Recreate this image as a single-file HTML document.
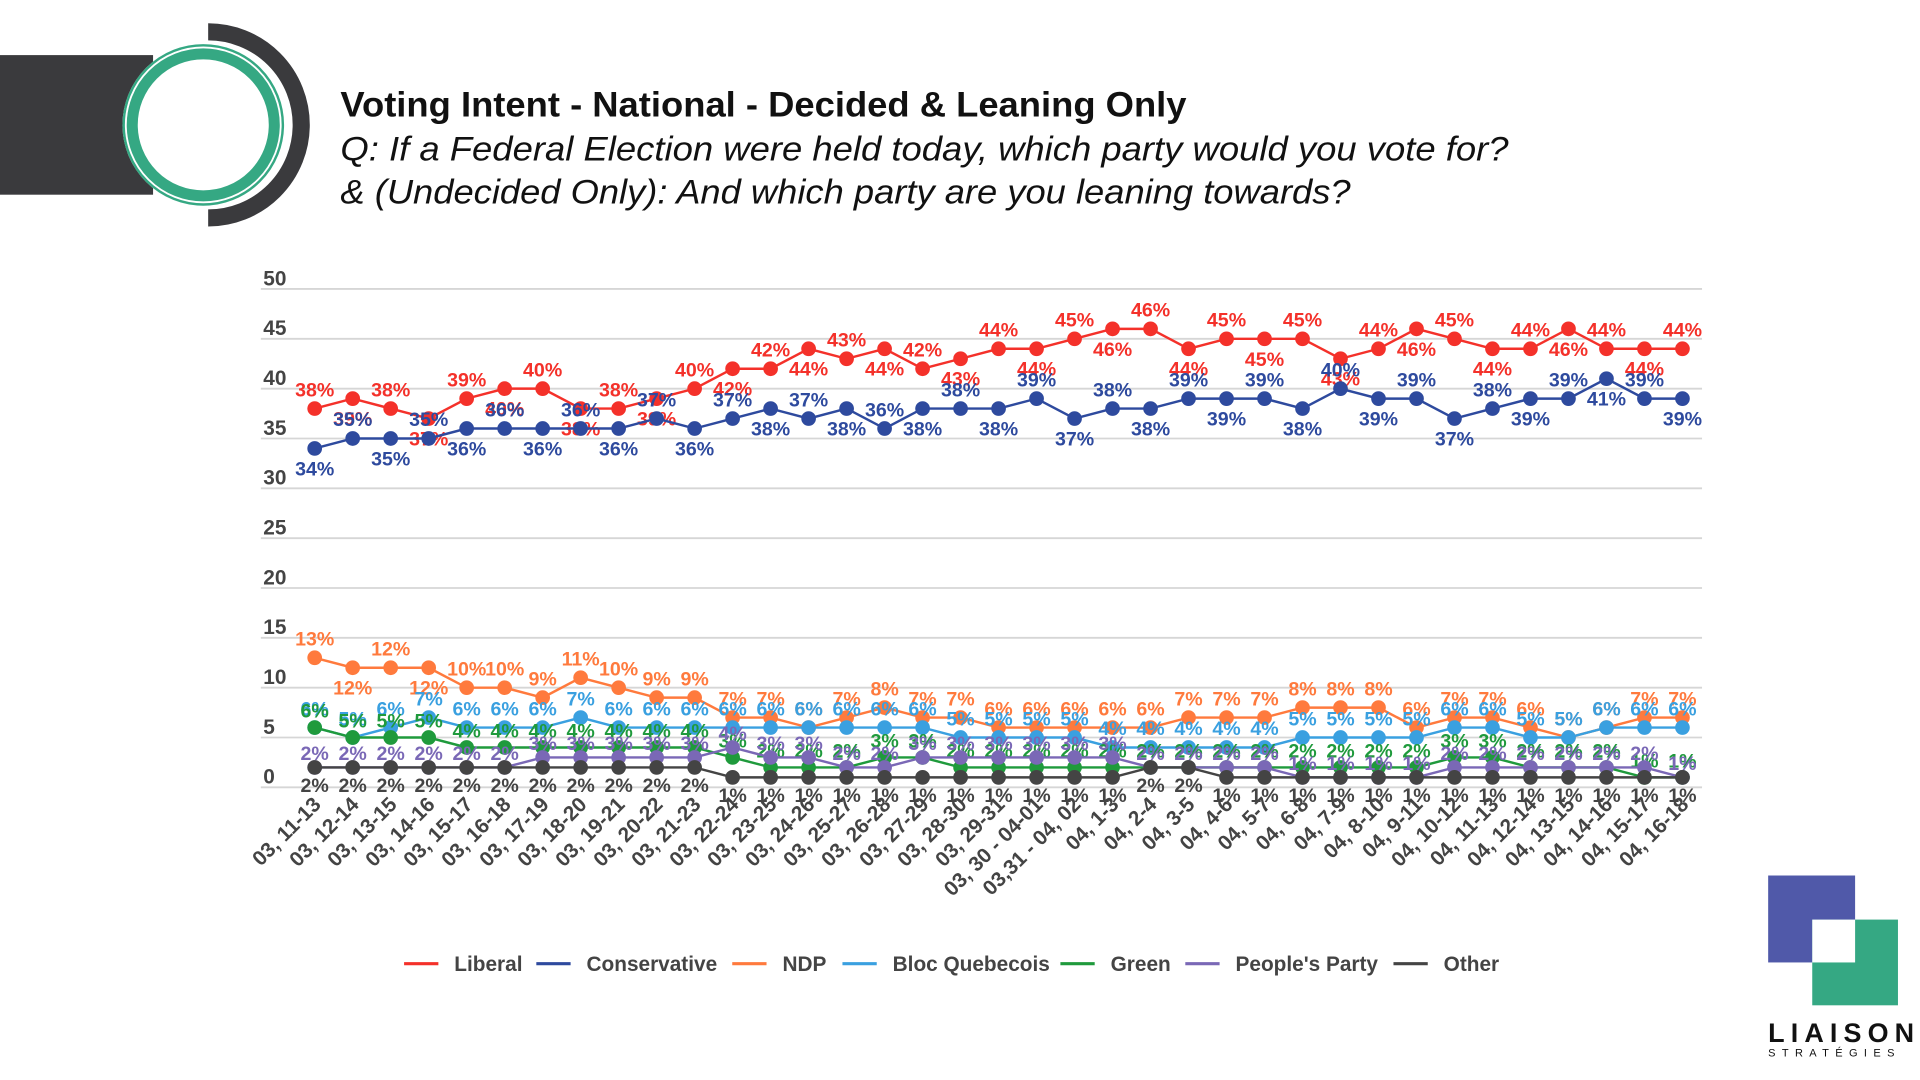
<!DOCTYPE html>
<html><head><meta charset="utf-8"><style>
html,body{margin:0;padding:0;background:#fff;width:1920px;height:1080px;overflow:hidden}
svg{display:block}
text{font-family:"Liberation Sans Narrow","Liberation Sans",sans-serif}
</style></head><body>
<svg id="chart" width="1920" height="1080" viewBox="0 0 1568 882" xmlns="http://www.w3.org/2000/svg">
<g>
<rect x="0" y="45" width="125" height="114" fill="#3a3a3d"/>
<path d="M170,26 A76,76 0 0 1 170,178" fill="none" stroke="#3a3a3d" stroke-width="14"/>
<circle cx="166" cy="102" r="66" fill="#fff"/>
<circle cx="166" cy="102" r="65" fill="none" stroke="#35a883" stroke-width="2"/>
<circle cx="166" cy="102" r="58" fill="none" stroke="#35a883" stroke-width="9"/>
</g>
<text x="278" y="95" font-size="29" font-weight="bold" fill="#111" textLength="691" lengthAdjust="spacingAndGlyphs">Voting Intent - National - Decided &amp; Leaning Only</text>
<text x="278" y="131" font-size="28" font-style="italic" fill="#111" textLength="954" lengthAdjust="spacingAndGlyphs">Q: If a Federal Election were held today, which party would you vote for?</text>
<text x="278" y="166" font-size="28" font-style="italic" fill="#111" textLength="825" lengthAdjust="spacingAndGlyphs">&amp; (Undecided Only): And which party are you leaning towards?</text>
<g id="grid"></g>
<g id="series"></g>
<g id="xlabels"></g>
<g id="legend"></g>
<g>
<rect x="1444" y="715" width="71" height="71" fill="#5059a9"/>
<rect x="1480" y="751" width="70" height="70" fill="#35a883"/>
<rect x="1480" y="751" width="35" height="35" fill="#fff"/>
<text x="1444" y="851" font-size="22" font-weight="bold" fill="#111" letter-spacing="5">LIAISON</text>
<text x="1444" y="863" font-size="9" fill="#111" letter-spacing="5.2">STRATÉGIES</text>
</g>
</svg>
<script>
const categories=["03, 11-13","03, 12-14","03, 13-15","03, 14-16","03, 15-17","03, 16-18","03, 17-19","03, 18-20","03, 19-21","03, 20-22","03, 21-23","03, 22-24","03, 23-25","03, 24-26","03, 25-27","03, 26-28","03, 27-29","03, 28-30","03, 29-31","03, 30 - 04-01","03,31 - 04, 02","04, 1-3","04, 2-4","04, 3-5","04, 4-6","04, 5-7","04, 6-8","04, 7-9","04, 8-10","04, 9-11","04, 10-12","04, 11-13","04, 12-14","04, 13-15","04, 14-16","04, 15-17","04, 16-18"];
const liberal=[38,39,38,37,39,40,40,38,38,39,40,42,42,44,43,44,42,43,44,44,45,46,46,44,45,45,45,43,44,46,45,44,44,46,44,44,44];
const conservative=[34,35,35,35,36,36,36,36,36,37,36,37,38,37,38,36,38,38,38,39,37,38,38,39,39,39,38,40,39,39,37,38,39,39,41,39,39];
const ndp=[13,12,12,12,10,10,9,11,10,9,9,7,7,6,7,8,7,7,6,6,6,6,6,7,7,7,8,8,8,6,7,7,6,5,6,7,7];
const bloc=[6,5,6,7,6,6,6,7,6,6,6,6,6,6,6,6,6,5,5,5,5,4,4,4,4,4,5,5,5,5,6,6,5,5,6,6,6];
const green=[6,5,5,5,4,4,4,4,4,4,4,3,2,2,2,3,3,2,2,2,2,2,2,2,2,2,2,2,2,2,3,3,2,2,2,1,1];
const peoples=[2,2,2,2,2,2,3,3,3,3,3,4,3,3,2,2,3,3,3,3,3,3,2,2,2,2,1,1,1,1,2,2,2,2,2,2,1];
const other=[2,2,2,2,2,2,2,2,2,2,2,1,1,1,1,1,1,1,1,1,1,1,2,2,1,1,1,1,1,1,1,1,1,1,1,1,1];
const yTicks=[0,5,10,15,20,25,30,35,40,45,50];
const seriesNames=["Liberal","Conservative","NDP","Bloc Quebecois","Green","People's Party","Other"];
const seriesColors=["#f4312a","#2e4a9e","#ff7a3d","#3aa0e0","#1f9a3c","#7a68b6","#444"];

const NS="http://www.w3.org/2000/svg";
const X0=257,X1=1374,Y0=643,UNIT=8.14;
function xs(i){return X0+(X1-X0)*i/(categories.length-1);}
function ys(v){return Y0-v*UNIT;}
function mk(tag,attrs,parent){const e=document.createElementNS(NS,tag);for(const k in attrs)e.setAttribute(k,attrs[k]);parent.appendChild(e);return e;}

const grid=document.getElementById('grid');
yTicks.forEach(t=>{
  const l=mk('line',{x1:213,x2:1390,y1:ys(t),y2:ys(t),stroke:'#d6d6d6','stroke-width':1.5},grid);
  
  
  const tx=mk('text',{x:215,y:ys(t)-3,'font-size':17,'font-weight':'bold',fill:'#444'},grid);
  tx.textContent=t;
  
  
});

const allData=[liberal,conservative,ndp,bloc,green,peoples,other];
const layer=document.getElementById('series');
function labelPos(s,i,v){
  if(s===0) return i%2===0?[0,-10]:[0,22];
  if(s===1) return i%2===0?[0,22]:[0,-10];
  if(s===2) return i%2===1&&i<4?[0,22]:[0,-10];
  if(s===3) return [0,-10];
  if(s===4) return [0,-8];
  if(s===5) return [0,-6];
  return [0,20];
}
allData.forEach((data,s)=>{
  const g=mk('g',{},layer);
  
  
  const pts=data.map((v,i)=>xs(i)+','+ys(v)).join(' ');
  const pl=mk('polyline',{points:pts,fill:'none',stroke:seriesColors[s],'stroke-width':2},g);
  
  
  data.forEach((v,i)=>{
    const c=mk('circle',{cx:xs(i),cy:ys(v),r:6,fill:seriesColors[s]},g);
    
    
    const p=labelPos(s,i,v);
    const t=mk('text',{x:xs(i)+p[0],y:ys(v)+p[1],'font-size':16,'font-weight':'bold',fill:seriesColors[s],'text-anchor':'middle'},g);
    t.textContent=v+'%';
    
    
  });
});

const xl=document.getElementById('xlabels');
categories.forEach((c,i)=>{
  const t=mk('text',{x:0,y:0,'font-size':17,'font-weight':'bold',fill:'#444','text-anchor':'end',transform:`translate(${xs(i)+6},${658}) rotate(-45)`},xl);
  t.textContent=c;
  
  
});

const lg=document.getElementById('legend');
const legX=[330,438,598,688,866,968,1138];
seriesNames.forEach((n,i)=>{
  const g=mk('g',{},lg);
  
  
  mk('line',{x1:legX[i],x2:legX[i]+28,y1:787,y2:787,stroke:seriesColors[i],'stroke-width':2.5},g);
  const t=mk('text',{x:legX[i]+41,y:793,'font-size':17,'font-weight':'bold',fill:'#444'},g);
  t.textContent=n;
});
</script>
</body></html>
